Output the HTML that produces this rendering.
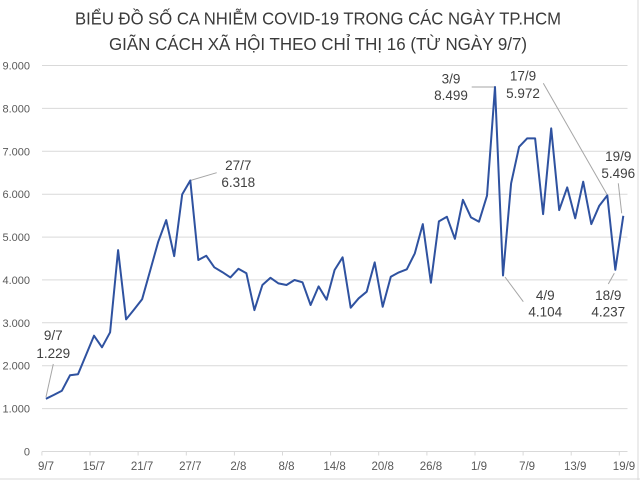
<!DOCTYPE html>
<html>
<head>
<meta charset="utf-8">
<style>
html,body{margin:0;padding:0;background:#fff;}
svg{display:block;}
</style>
</head>
<body>
<svg width="640" height="480" viewBox="0 0 640 480" xmlns="http://www.w3.org/2000/svg">
<rect x="0" y="0" width="640" height="480" fill="#ffffff"/>
<!-- border -->
<line x1="638" y1="0" x2="638" y2="480" stroke="#d9d9d9" stroke-width="1"/>
<line x1="0" y1="479" x2="640" y2="479" stroke="#d9d9d9" stroke-width="1"/>
<!-- title -->
<g font-family="Liberation Sans, DejaVu Sans, sans-serif" font-size="17.5" fill="#3a3a3a" text-anchor="middle">
<text x="318" y="24.5" textLength="486" lengthAdjust="spacingAndGlyphs">BIỂU ĐỒ SỐ CA NHIỄM COVID-19 TRONG CÁC NGÀY TP.HCM</text>
<text x="318" y="50" textLength="418" lengthAdjust="spacingAndGlyphs">GIÃN CÁCH XÃ HỘI THEO CHỈ THỊ 16 (TỪ NGÀY 9/7)</text>
</g>
<!-- gridlines -->
<g stroke="#d9d9d9" stroke-width="1">
<line x1="42" y1="65.5" x2="627.5" y2="65.5"/>
<line x1="42" y1="108.4" x2="627.5" y2="108.4"/>
<line x1="42" y1="151.3" x2="627.5" y2="151.3"/>
<line x1="42" y1="194.2" x2="627.5" y2="194.2"/>
<line x1="42" y1="237.1" x2="627.5" y2="237.1"/>
<line x1="42" y1="279.9" x2="627.5" y2="279.9"/>
<line x1="42" y1="322.8" x2="627.5" y2="322.8"/>
<line x1="42" y1="365.7" x2="627.5" y2="365.7"/>
<line x1="42" y1="408.6" x2="627.5" y2="408.6"/>
<line x1="42" y1="451.5" x2="627.5" y2="451.5"/>
</g>
<!-- ticks -->
<g stroke="#d9d9d9" stroke-width="1">
<line x1="41.9" y1="451.5" x2="41.9" y2="455.5"/>
<line x1="90" y1="451.5" x2="90" y2="455.5"/>
<line x1="138.1" y1="451.5" x2="138.1" y2="455.5"/>
<line x1="186.3" y1="451.5" x2="186.3" y2="455.5"/>
<line x1="234.4" y1="451.5" x2="234.4" y2="455.5"/>
<line x1="282.5" y1="451.5" x2="282.5" y2="455.5"/>
<line x1="330.6" y1="451.5" x2="330.6" y2="455.5"/>
<line x1="378.7" y1="451.5" x2="378.7" y2="455.5"/>
<line x1="426.9" y1="451.5" x2="426.9" y2="455.5"/>
<line x1="475" y1="451.5" x2="475" y2="455.5"/>
<line x1="523.1" y1="451.5" x2="523.1" y2="455.5"/>
<line x1="571.2" y1="451.5" x2="571.2" y2="455.5"/>
<line x1="619.3" y1="451.5" x2="619.3" y2="455.5"/>
</g>
<!-- y labels -->
<g font-family="Liberation Sans, DejaVu Sans, sans-serif" font-size="11" fill="#595959" text-anchor="end">
<text x="30" y="69.5">9.000</text>
<text x="30" y="112.4">8.000</text>
<text x="30" y="155.3">7.000</text>
<text x="30" y="198.2">6.000</text>
<text x="30" y="241.1">5.000</text>
<text x="30" y="283.9">4.000</text>
<text x="30" y="326.8">3.000</text>
<text x="30" y="369.7">2.000</text>
<text x="30" y="412.6">1.000</text>
<text x="30" y="455.5">0</text>
</g>
<!-- x labels -->
<g font-family="Liberation Sans, DejaVu Sans, sans-serif" font-size="11.5" fill="#595959" text-anchor="middle">
<text x="46" y="470">9/7</text>
<text x="94" y="470">15/7</text>
<text x="142.1" y="470">21/7</text>
<text x="190.3" y="470">27/7</text>
<text x="238.4" y="470">2/8</text>
<text x="286.5" y="470">8/8</text>
<text x="334.6" y="470">14/8</text>
<text x="382.7" y="470">20/8</text>
<text x="430.9" y="470">26/8</text>
<text x="479" y="470">1/9</text>
<text x="527.1" y="470">7/9</text>
<text x="575.2" y="470">13/9</text>
<text x="624" y="470">19/9</text>
</g>
<!-- leader lines -->
<g stroke="#a6a6a6" stroke-width="1" fill="none">
<line x1="53.3" y1="364" x2="46" y2="397"/>
<line x1="216.7" y1="172.7" x2="190.3" y2="180.5"/>
<line x1="471.7" y1="87" x2="495" y2="87"/>
<line x1="505" y1="277" x2="523.3" y2="301.7"/>
<line x1="543.3" y1="83.3" x2="607.3" y2="195"/>
<line x1="614.3" y1="273.3" x2="608.3" y2="284"/>
<line x1="618.3" y1="183.3" x2="621.7" y2="213.3"/>
</g>
<!-- series -->
<polyline fill="none" stroke="#2f52a0" stroke-width="2" stroke-linejoin="round" points="
45.9,398.8 53.9,394.9 61.9,390.7 70.0,375.3 78.0,374.3 86.0,355.0 94.0,335.7 102.0,347.3 110.1,332.3 118.1,250.1
126.1,319.4 134.1,309.5 142.1,299.3 150.2,270.5 158.2,241.8 166.2,220.1 174.2,256.1 182.2,194.4 190.3,180.5 198.3,260.0
206.3,255.8 214.3,267.3 222.3,272.1 230.4,277.4 238.4,268.8 246.4,273.3 254.4,310.1 262.4,285.0 270.5,277.8 278.5,283.4
286.5,285.0 294.5,280.0 302.5,282.3 310.6,305.0 318.6,286.4 326.6,299.7 334.6,270.0 342.6,257.3 350.7,307.7 358.7,298.3
366.7,291.7 374.7,262.4 382.7,306.8 390.8,276.7 398.8,272.4 406.8,269.3 414.8,253.4 422.8,224.1 430.9,282.7 438.9,221.4
446.9,216.8 454.9,238.8 462.9,199.8 471.0,217.4 479.0,221.7 487.0,195.7 495.0,87.0 503.0,275.5 511.1,183.4 519.1,146.8
527.1,138.4 535.1,138.4 543.1,214.1 551.2,128.4 559.2,210.1 567.2,187.4 575.2,218.3 583.2,181.7 591.3,224.1 599.3,205.7
607.3,195.4 615.3,269.8 623.3,215.8"/>
<!-- data labels -->
<g font-family="Liberation Sans, DejaVu Sans, sans-serif" font-size="13.5" fill="#404040" text-anchor="middle">
<text x="53.3" y="340">9/7</text>
<text x="53.3" y="358">1.229</text>
<text x="238.3" y="170">27/7</text>
<text x="238.3" y="187">6.318</text>
<text x="451" y="83.3">3/9</text>
<text x="451" y="100">8.499</text>
<text x="523" y="80.5">17/9</text>
<text x="523" y="98">5.972</text>
<text x="545.3" y="300">4/9</text>
<text x="545.3" y="316.7">4.104</text>
<text x="608.3" y="300">18/9</text>
<text x="608.3" y="316.7">4.237</text>
<text x="618.3" y="161">19/9</text>
<text x="618.3" y="178">5.496</text>
</g>
</svg>
</body>
</html>
